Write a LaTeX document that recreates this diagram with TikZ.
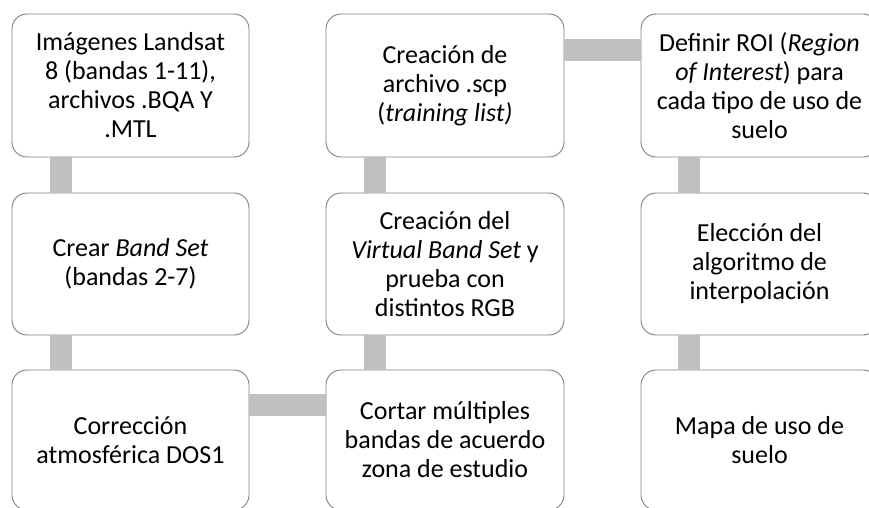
\documentclass[tikz,border=0pt]{standalone}
\usepackage{fontspec}
\setmainfont{Carlito}
\definecolor{boxline}{HTML}{7F7F7F}
\definecolor{conncol}{HTML}{C0C0C0}
\tikzset{
  procbox/.style={draw=boxline, line width=0.9pt, fill=white, rounded corners=15pt,
    align=center, inner sep=0pt, font=\fontsize{26}{29}\selectfont},
  conn/.style={draw=conncol, line width=22pt},
}
\begin{document}
\begin{tikzpicture}[x=1pt,y=-1pt]
\useasboundingbox (0,0) rectangle (869,508);
% boxes
\node[procbox, minimum width=237pt, minimum height=143pt] (a1) at (130.5,85.5)
  {Imágenes Landsat\\8 (bandas 1-11),\\archivos .BQA Y\\.MTL};
\node[procbox, minimum width=237pt, minimum height=142pt] (a2) at (130.5,264)
  {Crear \textit{Band Set}\\(bandas 2-7)};
\node[procbox, minimum width=237pt, minimum height=140pt] (a3) at (130.5,440)
  {Corrección\\atmosférica DOS1};
\node[procbox, minimum width=238pt, minimum height=143pt] (b1) at (445,85.5)
  {Creación de\\archivo .scp\\(\textit{training list)}};
\node[procbox, minimum width=238pt, minimum height=142pt] (b2) at (445,264)
  {Creación del\\\textit{Virtual Band Set} y\\prueba con\\distintos RGB};
\node[procbox, minimum width=238pt, minimum height=140pt] (b3) at (445,440)
  {Cortar múltiples\\bandas de acuerdo\\zona de estudio};
\node[procbox, minimum width=237pt, minimum height=143pt] (c1) at (759.5,85.5)
  {Definir ROI (\textit{Region}\\\textit{of Interest}) para\\cada tipo de uso de\\suelo};
\node[procbox, minimum width=237pt, minimum height=142pt] (c2) at (759.5,264)
  {Elección del\\algoritmo de\\interpolación};
\node[procbox, minimum width=237pt, minimum height=140pt] (c3) at (759.5,440)
  {Mapa de uso de\\suelo};
% connectors
\draw[conn] ([xshift=49pt]a1.south west) -- ([xshift=49pt]a2.north west);
\draw[conn] ([xshift=49pt]a2.south west) -- ([xshift=49pt]a3.north west);
\draw[conn] ([yshift=-35.5pt]a3.north east) -- ([yshift=-35.5pt]b3.north west);
\draw[conn] ([xshift=49pt]b3.north west) -- ([xshift=49pt]b2.south west);
\draw[conn] ([xshift=49pt]b2.north west) -- ([xshift=49pt]b1.south west);
\draw[conn] ([yshift=-36.5pt]b1.north east) -- ([yshift=-36.5pt]c1.north west);
\draw[conn] ([xshift=48pt]c1.south west) -- ([xshift=48pt]c2.north west);
\draw[conn] ([xshift=48pt]c2.south west) -- ([xshift=48pt]c3.north west);
\end{tikzpicture}
\end{document}
